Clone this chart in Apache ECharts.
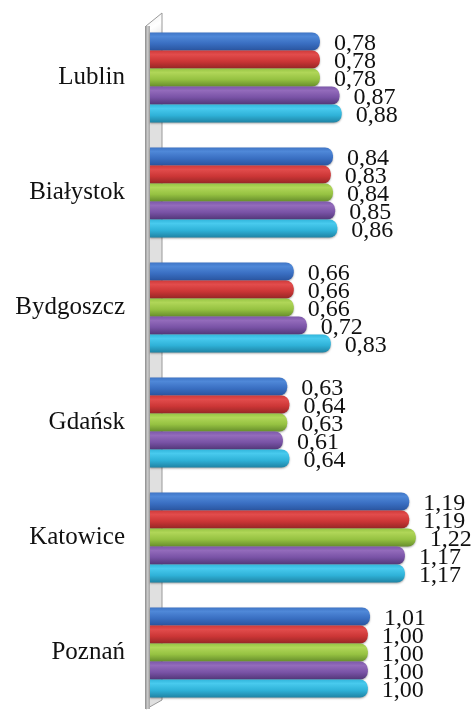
<!DOCTYPE html>
<html>
<head>
<meta charset="utf-8">
<script src="https://cdn.jsdelivr.net/npm/echarts@6/dist/echarts.min.js"></script>
<style>
html,body{margin:0;padding:0;background:#fff;}
#chart{width:474px;height:711px;}
</style>
</head>
<body>
<div id="chart"></div>
<script>
const categories = ['Lublin', 'Białystok', 'Bydgoszcz', 'Gdańsk', 'Katowice', 'Poznań'];
const seriesBlue   = [0.78, 0.84, 0.66, 0.63, 1.19, 1.01];
const seriesRed    = [0.78, 0.83, 0.66, 0.64, 1.19, 1.00];
const seriesGreen  = [0.78, 0.84, 0.66, 0.63, 1.22, 1.00];
const seriesPurple = [0.87, 0.85, 0.72, 0.61, 1.17, 1.00];
const seriesCyan   = [0.88, 0.86, 0.83, 0.64, 1.17, 1.00];

const palettes = [
  ['#3f75c6', '#4f88d8', '#3a6fc2', '#2a55a0'],
  ['#cf3a3a', '#e24c4c', '#cc3636', '#962626'],
  ['#96c444', '#b0d658', '#96c242', '#678e2c'],
  ['#7c58aa', '#936bbb', '#7953a6', '#523778'],
  ['#32b6dc', '#48caee', '#2fb2d8', '#1f83a4']
];
const allSeries = [seriesBlue, seriesRed, seriesGreen, seriesPurple, seriesCyan];

const chart = echarts.init(document.getElementById('chart'), null, {renderer: 'canvas'});

function grad(p) {
  return new echarts.graphic.LinearGradient(0, 0, 0, 1, [
    {offset: 0, color: p[0]},
    {offset: 0.22, color: p[1]},
    {offset: 0.6, color: p[2]},
    {offset: 1, color: p[3]}
  ]);
}

const serif = '"Liberation Serif", serif';

const option = {
  animation: false,
  backgroundColor: '#ffffff',
  grid: {left: 150, right: 19, top: 20, bottom: 1, containLabel: false},
  xAxis: {
    type: 'value', min: 0, max: 1.4, show: false,
    splitLine: {show: false}
  },
  yAxis: {
    type: 'category', data: categories, inverse: true,
    axisLine: {show: false}, axisTick: {show: false},
    axisLabel: {
      margin: 25, color: '#111',
      fontFamily: serif, fontSize: 25
    }
  },
  graphic: [
    {
      type: 'polygon', z: 0,
      shape: {points: [[146, 26], [162, 13], [162, 700], [146, 709]]},
      style: {
        fill: new echarts.graphic.LinearGradient(0, 0, 1, 0.04, [
          {offset: 0, color: '#eeeeee'},
          {offset: 0.5, color: '#ffffff'},
          {offset: 1, color: '#e0e0e0'}
        ]),
        stroke: '#9a9a9a', lineWidth: 1
      }
    },
    {
      type: 'rect', z: 0,
      shape: {x: 145, y: 26, width: 5, height: 683},
      style: {
        fill: new echarts.graphic.LinearGradient(0, 0, 1, 0, [
          {offset: 0, color: '#8c8c8c'},
          {offset: 0.5, color: '#c8c8c8'},
          {offset: 1, color: '#a8a8a8'}
        ])
      }
    }
  ],
  series: allSeries.map((vals, i) => ({
    type: 'bar',
    data: vals,
    z: 5,
    barGap: '0%',
    barCategoryGap: '21.7%',
    itemStyle: {
      color: grad(palettes[i]),
      borderRadius: [0, 8, 8, 0],
      shadowColor: 'rgba(0,0,0,0.35)',
      shadowBlur: 2,
      shadowOffsetY: 1
    },
    label: {
      show: true, position: 'right', distance: 14,
      offset: [0, 2],
      color: '#111', fontFamily: serif, fontSize: 24,
      formatter: p => p.value.toFixed(2).replace('.', ',')
    }
  }))
};
chart.setOption(option);
</script>
</body>
</html>
